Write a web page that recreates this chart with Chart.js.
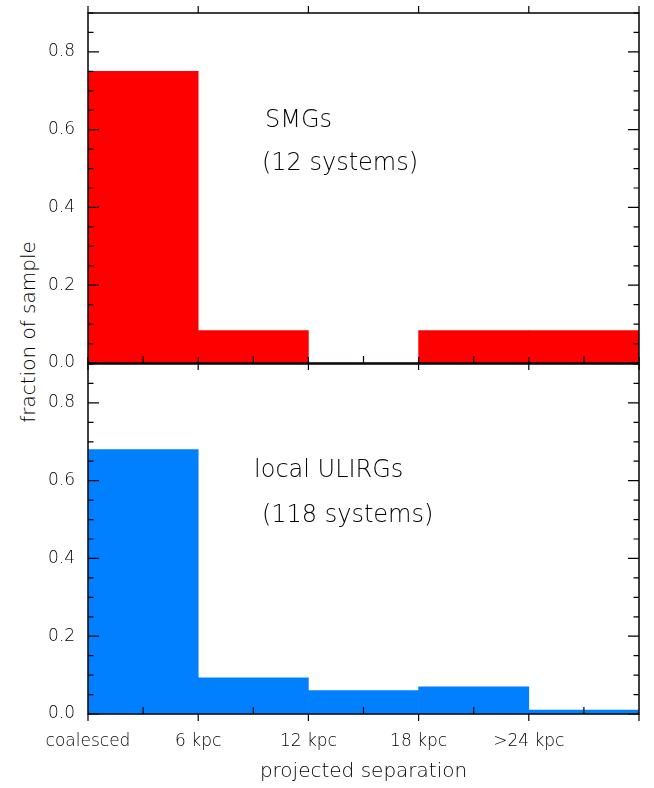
<!DOCTYPE html>
<html>
<head>
<meta charset="utf-8">
<script src="https://cdn.jsdelivr.net/npm/chart.js@4"></script>
<style>
  body { margin: 0; background: #fff; }
  #wrap { position: relative; width: 654px; height: 788px; overflow: hidden; }
  #top { position: absolute; left: 0; top: 0; }
  #bot { position: absolute; left: 0; top: 351px; }
  #ytitle {
    position: absolute; left: 28px; top: 332px;
    transform: translate(-50%, -50%) rotate(-90deg);
    white-space: nowrap; font: 200 20px "DejaVu Sans", sans-serif; color: #000;
  }
</style>
</head>
<body>
<div id="wrap">
  <div id="ytitle">fraction of sample</div>
  <canvas id="top" width="654" height="374"></canvas>
  <canvas id="bot" width="654" height="437"></canvas>
</div>
<script>
// bins of projected separation (kpc)
var binEdges = [0, 6, 12, 18, 24, 30];
var edgeLabels = ['coalesced', '6 kpc', '12 kpc', '18 kpc', '>24 kpc', ''];
var smgFrac = [0.75, 0.0833, 0, 0.0833, 0.0833];
var ulirgFrac = [0.68, 0.093, 0.06, 0.07, 0.01];
var yTicks = [0, 0.2, 0.4, 0.6, 0.8];

var FONT = '"DejaVu Sans", sans-serif';

function binPoints(vals) {
  var pts = [];
  for (var i = 0; i < vals.length; i++) {
    pts.push({ x: (binEdges[i] + binEdges[i + 1]) / 2, y: vals[i] });
  }
  return pts;
}

// IDL-style frame: inward y ticks both sides, outward major / inward minor x ticks
var framePlugin = {
  id: 'frame',
  afterDraw: function (chart, args, opts) {
    var ctx = chart.ctx, a = chart.chartArea;
    var xs = chart.scales.x, ys = chart.scales.y;
    ctx.save();
    ctx.strokeStyle = '#000';
    ctx.lineWidth = 1.2;
    ctx.beginPath();
    for (var v = 0; v <= 0.9001; v += 0.05) {
      var py = ys.getPixelForValue(v);
      var major = Math.abs(v / 0.2 - Math.round(v / 0.2)) < 1e-6;
      var len = major ? 11 : 5.5;
      ctx.moveTo(a.left, py); ctx.lineTo(a.left + len, py);
      ctx.moveTo(a.right, py); ctx.lineTo(a.right - len, py);
    }
    for (var i = 0; i < binEdges.length; i++) {
      var px = xs.getPixelForValue(binEdges[i]);
      ctx.moveTo(px, a.bottom); ctx.lineTo(px, a.bottom + 7);
      if (opts.topMajor) { ctx.moveTo(px, a.top); ctx.lineTo(px, a.top - 7); }
      if (i < binEdges.length - 1) {
        var mx = xs.getPixelForValue((binEdges[i] + binEdges[i + 1]) / 2);
        ctx.moveTo(mx, a.bottom); ctx.lineTo(mx, a.bottom - 7);
      }
    }
    ctx.stroke();
    ctx.lineWidth = 1.5;
    ctx.strokeRect(a.left, a.top, a.right - a.left, a.bottom - a.top);
    // panel notes, placed in data coordinates
    ctx.fillStyle = '#000';
    ctx.textBaseline = 'middle';
    ctx.textAlign = 'left';
    (opts.notes || []).forEach(function (n) {
      ctx.font = '200 ' + n.size + 'px ' + FONT;
      ctx.fillText(n.text, xs.getPixelForValue(n.x), ys.getPixelForValue(n.y));
    });
    ctx.restore();
  }
};

function makePanel(id, vals, color, showX, notes, pad) {
  return new Chart(document.getElementById(id), {
    type: 'bar',
    data: {
      datasets: [{
        data: binPoints(vals),
        backgroundColor: color,
        borderWidth: 0,
        barPercentage: 1.0,
        categoryPercentage: 1.0
      }]
    },
    plugins: [framePlugin],
    options: {
      responsive: false,
      animation: false,
      layout: { padding: pad },
      plugins: {
        legend: { display: false },
        tooltip: { enabled: false },
        frame: { notes: notes, topMajor: true }
      },
      scales: {
        x: {
          type: 'linear',
          min: 0, max: 30,
          offset: false,
          display: showX,
          grid: { display: false, drawTicks: false },
          border: { display: false },
          afterBuildTicks: function (s) {
            s.ticks = binEdges.map(function (e) { return { value: e }; });
          },
          afterFit: function (s) {
            if (showX) s.height = 74;
            s.paddingLeft = 0; s.paddingRight = 0;
          },
          ticks: {
            autoSkip: false,
            maxRotation: 0,
            padding: 17,
            color: '#000',
            font: { family: FONT, size: 17, weight: '200' },
            callback: function (v) { return edgeLabels[binEdges.indexOf(v)]; }
          },
          title: {
            display: true,
            text: 'projected separation',
            color: '#000',
            padding: { top: 0, bottom: 4 },
            font: { family: FONT, size: 20, weight: '200' }
          }
        },
        y: {
          min: 0, max: 0.9,
          grid: { display: false, drawTicks: false },
          border: { display: false },
          afterBuildTicks: function (s) {
            s.ticks = yTicks.map(function (t) { return { value: t }; });
          },
          afterFit: function (s) {
            s.width = 88;
            s.paddingTop = 0; s.paddingBottom = 0;
          },
          ticks: {
            padding: 13,
            color: '#000',
            font: { family: FONT, size: 17, weight: '200' },
            callback: function (v) { return v.toFixed(1); }
          }
        }
      }
    }
  });
}

makePanel('top', smgFrac, '#ff0000', false, [
  { text: 'SMGs', x: 9.64, y: 0.622, size: 24 },
  { text: '(12 systems)', x: 9.47, y: 0.512, size: 24 }
], { top: 13, right: 15, bottom: 11, left: 0 });

makePanel('bot', ulirgFrac, '#0080ff', true, [
  { text: 'local ULIRGs', x: 9.04, y: 0.625, size: 24 },
  { text: '(118 systems)', x: 9.47, y: 0.509, size: 24 }
], { top: 13, right: 15, bottom: 0, left: 0 });
</script>
</body>
</html>
